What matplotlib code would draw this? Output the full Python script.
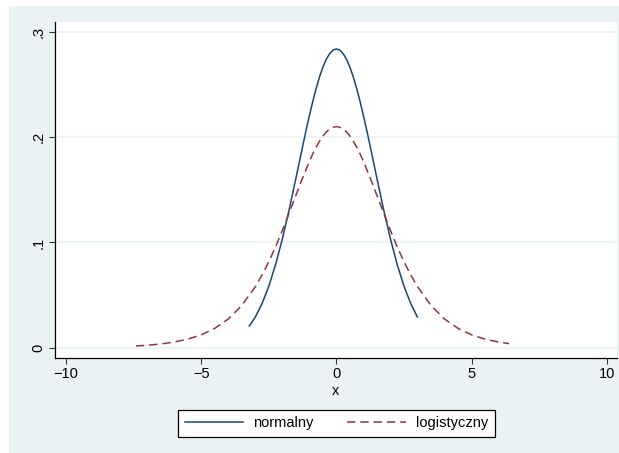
import matplotlib
matplotlib.use("Agg")
import matplotlib.pyplot as plt
from matplotlib.patches import Rectangle

# values
norm_x = [-3.22, -3.0, -2.75, -2.5, -2.25, -2.0, -1.75, -1.5, -1.375, -1.25, -1.125, -1.0, -0.875, -0.75,
          -0.625, -0.5, -0.375, -0.25, -0.125, 0.0, 0.125, 0.25, 0.375, 0.5, 0.625, 0.75, 0.875, 1.0,
          1.125, 1.25, 1.375, 1.5, 1.75, 2.0, 2.25, 2.5, 2.75, 2.99]
norm_y = [0.0206, 0.0290, 0.0418, 0.0583, 0.0788, 0.1031, 0.1307, 0.1606, 0.1759, 0.1911, 0.2061, 0.2204,
          0.2339, 0.2462, 0.2572, 0.2665, 0.2740, 0.2794, 0.2828, 0.2839, 0.2828, 0.2794, 0.2740, 0.2665,
          0.2572, 0.2462, 0.2339, 0.2204, 0.2061, 0.1911, 0.1759, 0.1606, 0.1307, 0.1031, 0.0788, 0.0583,
          0.0418, 0.0293]

logi_x = [-7.41, -7.0, -6.5, -6.0, -5.5, -5.0, -4.5, -4.0, -3.5, -3.0, -2.75, -2.5, -2.25, -2.0, -1.75,
          -1.5, -1.25, -1.0, -0.875, -0.75, -0.625, -0.5, -0.375, -0.25, -0.125, 0.0, 0.125, 0.25, 0.375,
          0.5, 0.625, 0.75, 0.875, 1.0, 1.25, 1.5, 1.75, 2.0, 2.25, 2.5, 2.75, 3.0, 3.5, 4.0, 4.5, 5.0,
          5.5, 6.0, 6.38]
logi_y = [0.0017, 0.0023, 0.0035, 0.0054, 0.0081, 0.0122, 0.0183, 0.0272, 0.0400, 0.0579, 0.0690, 0.0816,
          0.0957, 0.1112, 0.1277, 0.1446, 0.1613, 0.1770, 0.1841, 0.1905, 0.1962, 0.2011, 0.2050, 0.2078,
          0.2095, 0.2101, 0.2095, 0.2078, 0.2050, 0.2011, 0.1962, 0.1905, 0.1841, 0.1770, 0.1613, 0.1446,
          0.1277, 0.1112, 0.0957, 0.0816, 0.0690, 0.0579, 0.0400, 0.0272, 0.0183, 0.0122, 0.0081, 0.0054,
          0.0039]

xticks = [-10, -5, 0, 5, 10]
yticks = [0, 0.1, 0.2, 0.3]
ytick_labels = ["0", ".1", ".2", ".3"]

plt.rcParams['font.family'] = ['Liberation Sans', 'DejaVu Sans']

W, H = 619, 453
fig = plt.figure(figsize=(W / 100, H / 100), dpi=100)
fig.patch.set_facecolor("white")
fig.patches.append(Rectangle((9 / W, 0), 1, 1 - 6 / H, transform=fig.transFigure,
                             facecolor="#eaf2f3", edgecolor="none", zorder=-10))

ax = fig.add_axes([55 / W, (H - 357.7) / H, (617 - 55) / W, (357.7 - 22) / H])
ax.set_facecolor("white")

navy = "#1a476f"
maroon = "#90353b"
ax.plot(norm_x, norm_y, color=navy, lw=1.1, label="normalny", zorder=3)
ax.plot(logi_x, logi_y, color=maroon, lw=1.1, ls=(0, (5.5, 3.2)), label="logistyczny", zorder=3)

ax.set_xlim(-10.4, 10.37)
ax.set_ylim(-0.0095, 0.3095)
ax.set_xticks(xticks)
ax.set_xticklabels([str(t).replace("-", "\u2212") for t in xticks])
ax.set_yticks(yticks)
ax.set_yticklabels(ytick_labels, rotation=90, va="center")
for t in yticks:
    ax.axhline(t, color="#eaf2f3", lw=1.2, zorder=1)

for s in ["top", "right"]:
    ax.spines[s].set_visible(False)
for s in ["left", "bottom"]:
    ax.spines[s].set_linewidth(0.9)
ax.tick_params(axis="both", length=4, width=0.8, color="#333333", labelsize=10.5, pad=3)
ax.set_xlabel("x", fontsize=10.5, labelpad=2)

fig.legend(loc="center", bbox_to_anchor=(336.5 / W, (H - 423.5) / H), ncol=2, fontsize=10.5,
           frameon=True, fancybox=False, edgecolor="black", facecolor="white", framealpha=1,
           handlelength=4.0, handletextpad=0.7, columnspacing=2.3, borderpad=0.45)
fig.legends[0].get_frame().set_linewidth(0.9)

fig.savefig("out.png", dpi=100)
